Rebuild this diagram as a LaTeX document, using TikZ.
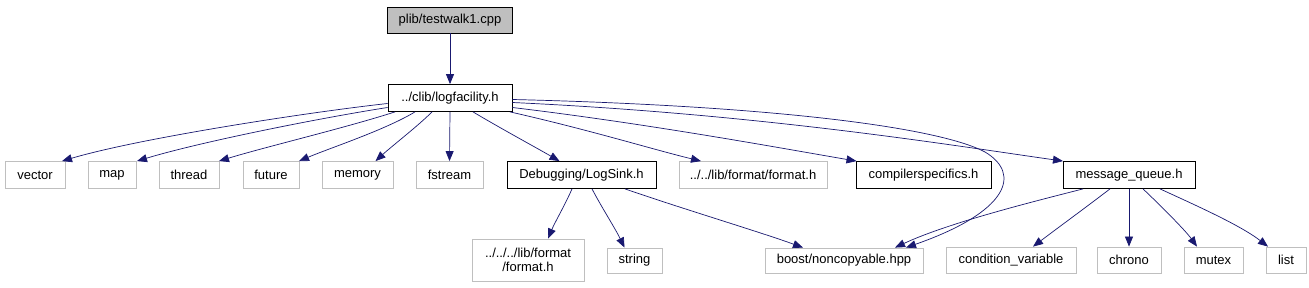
\documentclass[tikz,border=0pt]{standalone}
\usepackage{fontspec}
\setmainfont{Liberation Sans}
\usetikzlibrary{arrows.meta}
\definecolor{edgeblue}{HTML}{191970}
\definecolor{greyline}{HTML}{BFBFBF}
\tikzset{
  box/.style={draw=black, line width=0.8pt, inner sep=0pt, minimum height=27pt, font=\fontsize{13pt}{14pt}\selectfont, text=black},
  gbox/.style={box, draw=greyline},
  rootbox/.style={box, fill=greyline},
  edge/.style={draw=edgeblue, line width=0.7pt, -{Triangle[length=10pt,width=8pt]}, edgeblue},
}
\begin{document}
\begin{tikzpicture}[x=1pt,y=-1pt]
\useasboundingbox (0,0) rectangle (1309,288);
\fill[white] (0,0) rectangle (1309,288);
% nodes
\node[rootbox, minimum width=125pt, minimum height=26pt] (top) at (450,20) {plib/testwalk1.cpp};
\node[box, minimum width=124pt] (logf) at (450,98) {../clib/logfacility.h};
\node[gbox, minimum width=60pt] (vector) at (35,175) {vector};
\node[gbox, minimum width=48pt] (map) at (112,175) {map};
\node[gbox, minimum width=60pt] (thread) at (189,175) {thread};
\node[gbox, minimum width=56pt] (future) at (271,175) {future};
\node[gbox, minimum width=71pt] (memory) at (357.5,175) {memory};
\node[gbox, minimum width=67pt] (fstream) at (449.5,175) {fstream};
\node[box, minimum width=149pt] (logsink) at (581.5,175) {Debugging/LogSink.h};
\node[gbox, minimum width=148pt] (fmt1) at (753,175) {../../lib/format/format.h};
\node[box, minimum width=135pt] (comp) at (923.5,175) {compilerspecifics.h};
\node[box, minimum width=132pt] (mq) at (1129,175) {message\_queue.h};
\node[gbox, minimum width=112pt, minimum height=42pt, align=center] (fmt2) at (528,260) {../../../lib/format\\/format.h};
\node[gbox, minimum width=55pt, minimum height=25pt] (string) at (634.5,260.5) {string};
\node[gbox, minimum width=158pt, minimum height=25pt] (boost) at (844,260.5) {boost/noncopyable.hpp};
\node[gbox, minimum width=130pt, minimum height=26pt] (condvar) at (1011,260) {condition\_variable};
\node[gbox, minimum width=64pt, minimum height=26pt] (chrono) at (1129,260) {chrono};
\node[gbox, minimum width=59pt, minimum height=26pt] (mutex) at (1213.5,260) {mutex};
\node[gbox, minimum width=40pt, minimum height=26pt] (list) at (1286,260) {list};
% edges
\draw[edge] (top) -- (logf);
\draw[edge] ([yshift=-5.5pt]logf.west) .. controls (310,112) and (140,138) .. ([xshift=27pt]vector.north);
\draw[edge] ([yshift=-9.5pt]logf.west) .. controls (320,118) and (200,142) .. ([xshift=25pt]map.north);
\draw[edge] ([xshift=-55pt]logf.south) .. controls (345,128) and (265,147) .. ([xshift=30pt]thread.north);
\draw[edge] ([xshift=-35pt]logf.south) .. controls (385,130) and (330,148) .. ([xshift=28pt]future.north);
\draw[edge] ([xshift=-18pt]logf.south) .. controls (418,126) and (392,146) .. ([xshift=18pt]memory.north);
\draw[edge] (logf.south) -- (fstream.north);
\draw[edge] ([xshift=23pt]logf.south) .. controls (500,128) and (535,147) .. ([xshift=-22pt]logsink.north);
\draw[edge] ([xshift=60pt]logf.south) .. controls (590,130) and (655,150) .. ([xshift=-52pt]fmt1.north);
\draw[edge] ([yshift=-9.5pt]logf.east) .. controls (650,124) and (780,148) .. ([xshift=-67pt]comp.north);
\draw[edge] ([yshift=-4.5pt]logf.east) .. controls (760,114) and (950,145) .. ([xshift=-66pt]mq.north);
\draw[edge] ([yshift=-1.5pt]logf.east) .. controls (780,106) and (940,128) .. (985,152) .. controls (1022,174) and (1008,212) .. ([xshift=62pt]boost.north);
\draw[edge] ([xshift=-9.5pt]logsink.south) .. controls (565,205) and (555,222) .. ([xshift=20pt]fmt2.north);
\draw[edge] ([xshift=10.5pt]logsink.south) .. controls (602,208) and (615,228) .. ([xshift=-10pt]string.north);
\draw[edge] ([xshift=43.5pt]logsink.south) .. controls (680,208) and (760,232) .. ([xshift=-41pt]boost.north);
\draw[edge] ([xshift=-46pt]mq.south) .. controls (1040,200) and (950,222) .. ([xshift=51pt]boost.north);
\draw[edge] ([xshift=-19pt]mq.south) .. controls (1085,208) and (1055,230) .. ([xshift=22pt]condvar.north);
\draw[edge] (mq.south) -- (chrono.north);
\draw[edge] ([xshift=14pt]mq.south) .. controls (1160,205) and (1185,230) .. ([xshift=-16.5pt]mutex.north);
\draw[edge] ([xshift=31pt]mq.south) .. controls (1195,205) and (1240,225) .. ([xshift=-18pt]list.north);
\end{tikzpicture}
\end{document}
